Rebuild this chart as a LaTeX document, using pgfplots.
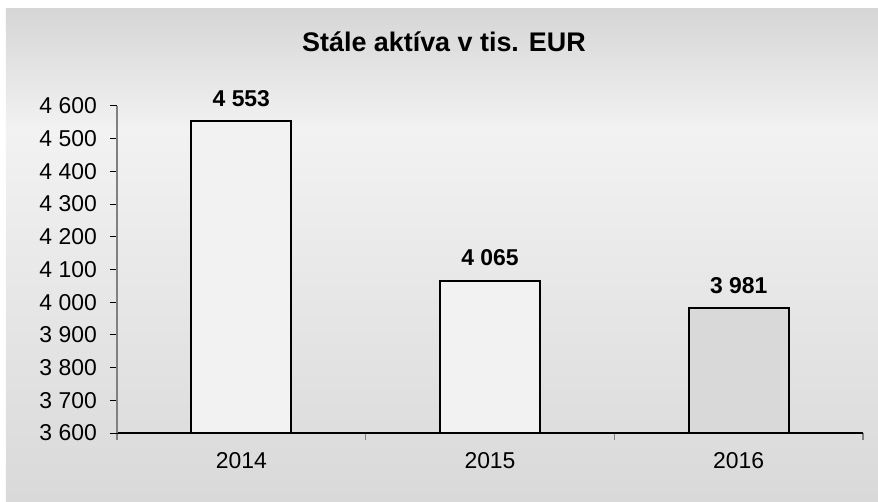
\documentclass[border=0pt]{standalone}
\usepackage{pgfplots}
\pgfplotsset{compat=1.18}
\usepackage{fontspec}
\setmainfont{Liberation Sans}
\definecolor{barlight}{HTML}{F2F2F2}
\definecolor{bardark}{HTML}{D9D9D9}
\definecolor{axgray}{HTML}{808080}
\definecolor{bgtop}{HTML}{D6D6D6}
\definecolor{bgmid}{HTML}{F2F2F2}
\definecolor{bgbot}{HTML}{D9D9D9}

\begin{document}
\begin{tikzpicture}
\useasboundingbox (-117bp,-69bp) rectangle (761bp,433bp);
% chart area background: dark at the top, light band, darker again to the bottom
\shade[top color=bgtop, bottom color=bgmid] (-111bp,303bp) rectangle (761bp,424bp);
\shade[top color=bgmid, bottom color=bgbot] (-111bp,-68bp) rectangle (761bp,303.5bp);
\begin{axis}[
  scale only axis, width=746bp, height=327bp,
  xmin=-0.5, xmax=2.5, ymin=3600, ymax=4600,
  axis x line*=bottom, axis y line*=left,
  axis line style={-},
  x axis line style={black, line width=1.2bp},
  y axis line style={axgray, line width=1.5bp},
  axis on top,
  /pgf/number format/assume math mode=true,
  tick align=outside, major tick length=7bp,
  xtick={-0.5,0.5,1.5,2.5}, x tick label as interval,
  xticklabels={2014,2015,2016},
  xtick style={axgray, line width=1.2bp},
  ytick={3600,3700,3800,3900,4000,4100,4200,4300,4400,4500,4600},
  yticklabels={3 600,3 700,3 800,3 900,4 000,4 100,4 200,4 300,4 400,4 500,4 600},
  ytick style={black, line width=1bp},
  tick label style={font=\fontsize{23}{27}\selectfont},
  yticklabel style={anchor=east, inner sep=0pt, xshift=-13bp},
  xticklabel style={anchor=north, inner sep=0pt, yshift=-12bp},
  title={Stále aktíva v tis. EUR},
  title style={font=\fontsize{27}{31}\selectfont\bfseries,
    at={(axis description cs:0.4383,1)}, anchor=base, yshift=49bp},
  nodes near coords, point meta=explicit symbolic,
  nodes near coords style={font=\fontsize{23}{27}\selectfont\bfseries,
    anchor=base, inner sep=0pt, yshift=15bp},
]
\addplot[ybar, bar width=100bp, bar shift=0pt, draw=black, line width=2bp,
  fill=barlight] coordinates {(0,4553) [4 553] (1,4065) [4 065]};
\addplot[ybar, bar width=100bp, bar shift=0pt, draw=black, line width=2bp,
  fill=bardark] coordinates {(2,3981) [3 981]};
\end{axis}
\end{tikzpicture}
\end{document}
